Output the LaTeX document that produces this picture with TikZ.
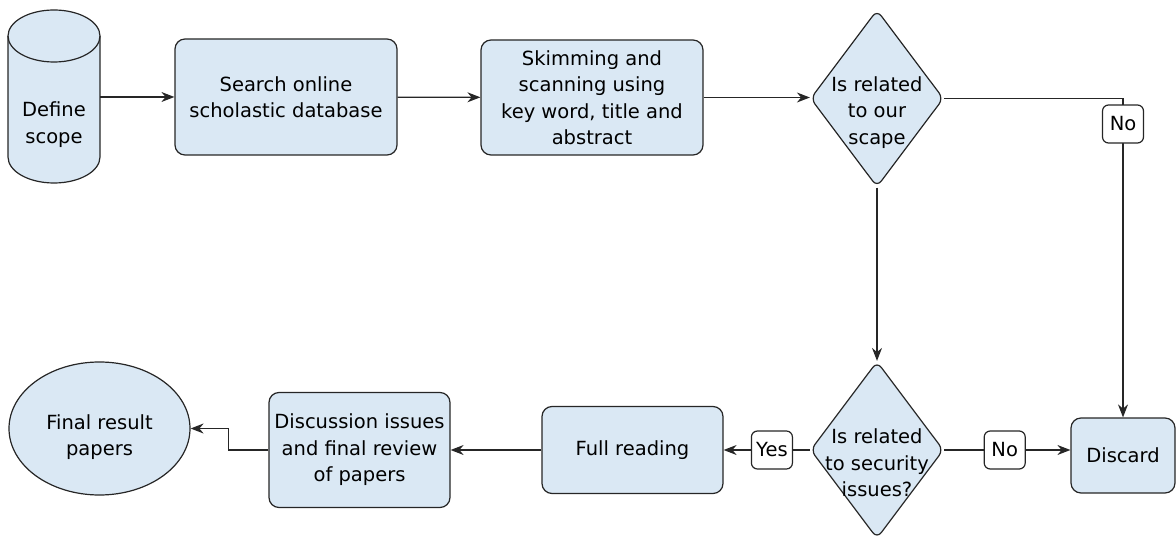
\documentclass[tikz,border=0pt]{standalone}
\usepackage{fontspec}
\setmainfont{DejaVu Sans}
\usepackage{tikz}
\usetikzlibrary{shapes.geometric, arrows.meta, positioning, calc}
\definecolor{boxblue}{HTML}{DAE8F4}
\newcommand{\flowtext}[2][-16pt]{\makebox[0pt]{\raisebox{#1}[0pt][0pt]{\begin{tabular}{@{}c@{}}#2\end{tabular}}}}

\begin{document}
\begin{tikzpicture}[
    x=1pt, y=-1pt,
    every node/.style={font=\fontsize{19.5}{26.5}\selectfont},
    block/.style={rectangle, draw=black!85, line width=1.2pt, rounded corners=10pt, fill=boxblue, align=center, inner sep=2pt, minimum width=222pt, minimum height=116pt},
    decision/.style={diamond, draw=black!85, line width=1.2pt, rounded corners=7pt, fill=boxblue, inner sep=0pt, aspect=0.75, minimum width=133pt, minimum height=177pt},
    store/.style={rectangle, inner sep=0pt, minimum width=92pt, minimum height=173pt},
    result/.style={ellipse, draw=black!85, line width=1.2pt, fill=boxblue, inner sep=0pt, minimum width=181pt, minimum height=133pt},
    lbl/.style={rectangle, draw=black!85, line width=1.2pt, rounded corners=6pt, fill=white, inner sep=3pt, minimum width=41pt, minimum height=38pt},
    arr/.style={-{Stealth[length=13pt, width=10pt]}, draw=black!85, line width=1.2pt},
    line/.style={draw=black!85, line width=1.2pt}
]
\useasboundingbox (0,0) rectangle (1176,540);

% Cylinder outline behind the scope node
\path[line, fill=boxblue] (8,36) -- (8,157) arc[start angle=180, end angle=360, x radius=46pt, y radius=26pt]
    -- (100,36) arc[start angle=0, end angle=180, x radius=46pt, y radius=26pt] -- cycle;
\draw[line] (8,36) arc[start angle=180, end angle=360, x radius=46pt, y radius=26pt];

% Top row
\node[store] (scope) at (54, 96.5) {\flowtext[-33.5pt]{Define\\scope}};
\node[block] (search) at (286, 97) {Search online\\scholastic database};
\node[block, minimum height=115pt] (skim) at (592, 97.5) {Skimming and\\scanning using\\key word, title and\\abstract};
\node[decision] (rel1) at (877, 98.5) {\flowtext[-19pt]{Is related\\to our\\scape}};

% Bottom row
\node[decision] (rel2) at (877, 450) {\flowtext[-20pt]{Is related\\to security\\issues?}};
\node[block, minimum width=104pt, minimum height=75pt] (discard) at (1123, 455.5) {Discard};
\node[block, minimum width=181pt, minimum height=87pt] (read) at (632.5, 450) {Full reading};
\node[block, minimum width=181pt, minimum height=115pt] (discuss) at (359.5, 450) {Discussion issues\\and final review\\of papers};
\node[result] (final) at (99.5, 428.5) {\flowtext[-14pt]{Final result\\papers}};

% Arrows
\draw[arr] (scope.east |- search.west) -- (search.west);
\draw[arr] (search) -- (skim);
\draw[arr] (skim.east) -- (skim.east -| rel1.west);
\draw[arr] (rel1.east) -| node[lbl, pos=0.54] (no1) {No} (discard.north);
\draw[arr] (rel1.south) -- (rel2.north);
\draw[arr] (rel2.west) -- node[lbl, pos=0.44] (yes) {Yes} (read.east);
\draw[arr] (rel2.east) -- node[lbl, pos=0.48] (no2) {No} (rel2.east -| discard.west);
\draw[arr] (read) -- (discuss);
\draw[arr] (discuss.west) -- ++(-40,0) |- (final.east);
\end{tikzpicture}
\end{document}
